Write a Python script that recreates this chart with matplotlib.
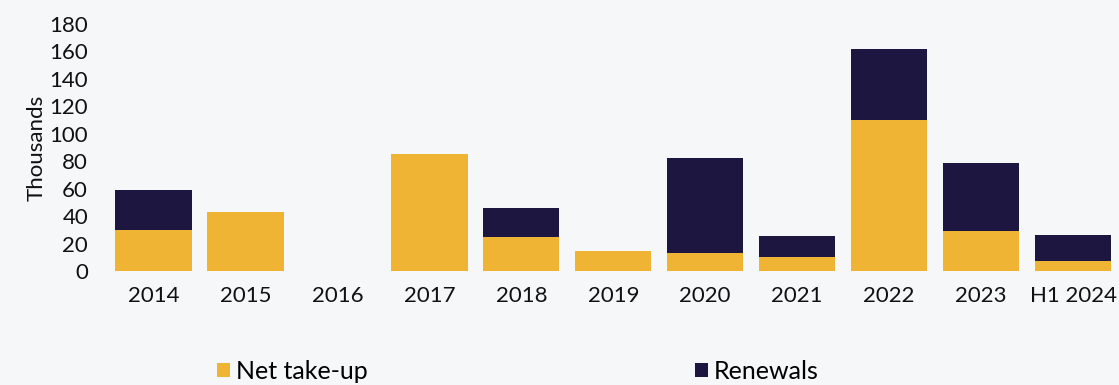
import numpy as np
import matplotlib
matplotlib.use("Agg")
import matplotlib.pyplot as plt
from matplotlib.patches import Patch

# --------------------------------------------------------------
# Data (thousands)
# --------------------------------------------------------------

years = ["2014", "2015", "2016", "2017", "2018", "2019",
         "2020", "2021", "2022", "2023", "H1 2024"]
net_take_up = [30, 43, 0, 85, 24.5, 14.5, 13, 10, 110, 29, 7]
renewals = [29, 0, 0, 0, 21.5, 0, 69, 15.5, 52, 50, 19]

yellow = "#F0B434"
navy = "#1C1640"
bg = "#F6F7F9"

plt.rcParams["font.family"] = ["Lato", "DejaVu Sans"]

# --------------------------------------------------------------
# Stacked bars
# --------------------------------------------------------------

fig = plt.figure(figsize=(11.19, 3.85), dpi=100, facecolor=bg)
ax = fig.add_axes([0.0961, 0.2961, 0.9039, 0.6416])
ax.set_facecolor(bg)

x = np.arange(len(years))
ax.bar(x, net_take_up, width=0.83, color=yellow, edgecolor="none")
ax.bar(x, renewals, width=0.83, bottom=net_take_up, color=navy, edgecolor="none")

ax.set_xlim(-0.5, len(years) - 0.5)
ax.set_ylim(0, 180)
ax.set_yticks(np.arange(0, 181, 20))
ax.set_xticks(x)
ax.set_xticklabels(years)
ax.tick_params(axis="both", length=0, labelsize=16, colors="#111111")
ax.tick_params(axis="y", pad=14)
ax.tick_params(axis="x", pad=11)
for s in ax.spines.values():
    s.set_visible(False)

ax.set_ylabel("Thousands", fontsize=16, color="#111111", labelpad=2)

# --------------------------------------------------------------
# Legend along the bottom
# --------------------------------------------------------------

handles = [Patch(facecolor=yellow, label="Net take-up"),
           Patch(facecolor=navy, label="Renewals")]
fig.legend(handles=handles, loc="center left", bbox_to_anchor=(0.194, 0.036),
           ncol=2, frameon=False, fontsize=18, handlelength=0.5,
           handleheight=0.5, handletextpad=0.25, columnspacing=13.1,
           borderpad=0, borderaxespad=0)

fig.savefig("out.png", dpi=100, facecolor=bg)
